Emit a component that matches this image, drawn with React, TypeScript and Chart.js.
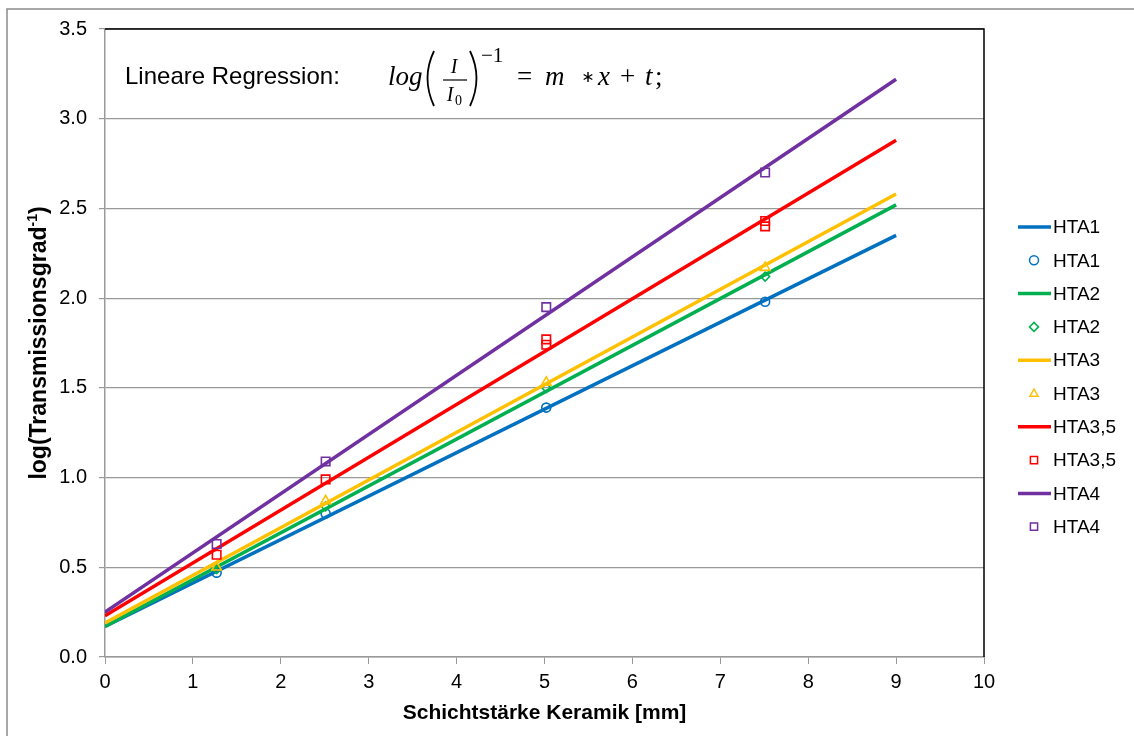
import React, { useEffect, useRef } from 'react';
import { Chart, registerables } from 'chart.js';

Chart.register(...registerables);

// ---- data ----
const seriesNames = ['HTA1', 'HTA2', 'HTA3', 'HTA3,5', 'HTA4'];
const seriesColors = ['#0070C0', '#00B050', '#FFC000', '#FF0000', '#7030A0'];
const markerStyles = ['circle', 'rectRot', 'triangle', 'rect', 'rect'];

// regression lines (x from 0 to 9)
const fitX = [0, 9];
const fitHTA1 = [0.17, 2.35];
const fitHTA2 = [0.17, 2.52];
const fitHTA3 = [0.19, 2.58];
const fitHTA35 = [0.23, 2.88];
const fitHTA4 = [0.25, 3.22];

// measured points
const measX = [1.27, 2.51, 5.02, 7.51];
const measHTA1 = [0.47, 0.8, 1.39, 1.98];
const measHTA2 = [0.49, 0.84, 1.5, 2.12];
const measHTA3 = [0.5, 0.87, 1.53, 2.17];
const measHTA35X = [1.27, 2.51, 5.02, 5.02, 7.51, 7.51];
const measHTA35 = [0.57, 0.99, 1.77, 1.74, 2.43, 2.4];
const measHTA4 = [0.63, 1.09, 1.95, 2.7];

const xMin = 0, xMax = 10, xStep = 1;
const yMin = 0, yMax = 3.5, yStep = 0.5;

const xTitle = 'Schichtstärke Keramik [mm]';
const yTitleMain = 'log(Transmissionsgrad';
const yTitleSup = '-1';
const yTitleEnd = ')';
const eqLabel = 'Lineare Regression:';

const fits = [fitHTA1, fitHTA2, fitHTA3, fitHTA35, fitHTA4];
const measXs = [measX, measX, measX, measHTA35X, measX];
const measYs = [measHTA1, measHTA2, measHTA3, measHTA35, measHTA4];

const SANS = '"Liberation Sans", Arial, sans-serif';
const SERIF = '"Liberation Serif", "Times New Roman", serif';

function drawMarker(ctx: CanvasRenderingContext2D, style: string, x: number, y: number, r: number) {
  ctx.beginPath();
  if (style === 'circle') {
    ctx.arc(x, y, r, 0, Math.PI * 2);
  } else if (style === 'rectRot') {
    ctx.moveTo(x, y - r); ctx.lineTo(x + r, y); ctx.lineTo(x, y + r); ctx.lineTo(x - r, y); ctx.closePath();
  } else if (style === 'triangle') {
    ctx.moveTo(x, y - r); ctx.lineTo(x + r * 0.9, y + r * 0.6); ctx.lineTo(x - r * 0.9, y + r * 0.6); ctx.closePath();
  } else {
    const s = r * 0.8;
    ctx.rect(x - s, y - s, 2 * s, 2 * s);
  }
  ctx.stroke();
}

const decorPlugin = {
  id: 'decor',
  beforeDatasetsDraw(chart: any) {
    const { ctx, chartArea } = chart;
    ctx.save();
    ctx.strokeStyle = '#000';
    ctx.lineWidth = 1.5;
    ctx.beginPath();
    ctx.moveTo(chartArea.left, chartArea.top);
    ctx.lineTo(chartArea.right, chartArea.top);
    ctx.lineTo(chartArea.right, chartArea.bottom);
    ctx.stroke();
    ctx.restore();
  },
  afterDraw(chart: any) {
    const { ctx, chartArea } = chart;
    ctx.save();
    // outer frame
    ctx.strokeStyle = '#8c8c8c';
    ctx.lineWidth = 1.5;
    ctx.beginPath();
    ctx.moveTo(7, 740);
    ctx.lineTo(7, 9);
    ctx.lineTo(1140, 9);
    ctx.stroke();

    // equation
    ctx.fillStyle = '#000';
    ctx.strokeStyle = '#000';
    ctx.textBaseline = 'alphabetic';
    ctx.textAlign = 'left';
    ctx.font = `24px ${SANS}`;
    ctx.fillText(eqLabel, 125, 84);
    ctx.font = `italic 27px ${SERIF}`;
    ctx.fillText('log', 388, 85);
    ctx.lineWidth = 1.8;
    ctx.beginPath(); ctx.moveTo(434, 51); ctx.quadraticCurveTo(421, 78, 434, 106); ctx.stroke();
    ctx.beginPath(); ctx.moveTo(470, 51); ctx.quadraticCurveTo(483, 78, 470, 106); ctx.stroke();
    ctx.font = `italic 20px ${SERIF}`;
    ctx.textAlign = 'center';
    ctx.fillText('I', 454, 73);
    ctx.lineWidth = 1.2;
    ctx.beginPath(); ctx.moveTo(443, 80); ctx.lineTo(467, 80); ctx.stroke();
    ctx.fillText('I', 450, 101);
    ctx.textAlign = 'left';
    ctx.font = `14px ${SERIF}`;
    ctx.fillText('0', 455, 105);
    ctx.font = `21px ${SERIF}`;
    ctx.fillText('\u22121', 481, 62);
    const tok: [string, boolean, number][] = [
      ['=', false, 517], ['m', true, 545], ['x', true, 598],
      ['+', false, 620], ['t', true, 645], [';', false, 655],
    ];
    tok.forEach(([s, it, x]) => {
      ctx.font = `${it ? 'italic ' : ''}27px ${SERIF}`;
      ctx.fillText(s, x, 85);
    });
    // math asterisk
    ctx.lineWidth = 1.4;
    ctx.beginPath();
    for (let k = 0; k < 3; k++) {
      const a = Math.PI / 2 + (k * Math.PI) / 3;
      ctx.moveTo(588 + 5 * Math.cos(a), 77 + 5 * Math.sin(a));
      ctx.lineTo(588 - 5 * Math.cos(a), 77 - 5 * Math.sin(a));
    }
    ctx.stroke();

    // x title
    ctx.font = `bold 21px ${SANS}`;
    ctx.textAlign = 'center';
    ctx.fillText(xTitle, (chartArea.left + chartArea.right) / 2, 719);

    // y title
    ctx.save();
    const cy = (chartArea.top + chartArea.bottom) / 2;
    ctx.translate(40, cy);
    ctx.rotate(-Math.PI / 2);
    ctx.textAlign = 'left';
    ctx.font = `bold 23px ${SANS}`;
    const w1 = ctx.measureText(yTitleMain).width;
    const w3 = ctx.measureText(yTitleEnd).width;
    ctx.font = `bold 14px ${SANS}`;
    const w2 = ctx.measureText(yTitleSup).width;
    const x0 = -(w1 + w2 + w3) / 2;
    ctx.textBaseline = 'middle';
    ctx.font = `bold 23px ${SANS}`;
    ctx.fillText(yTitleMain, x0, 0);
    ctx.font = `bold 14px ${SANS}`;
    ctx.fillText(yTitleSup, x0 + w1, -7);
    ctx.font = `bold 23px ${SANS}`;
    ctx.fillText(yTitleEnd, x0 + w1 + w2, 0);
    ctx.restore();

    // legend
    const ds = chart.data.datasets;
    ctx.textBaseline = 'middle';
    ctx.textAlign = 'left';
    ds.forEach((d: any, i: number) => {
      const y = 227 + i * 33.3;
      const si = Math.floor(i / 2);
      ctx.strokeStyle = seriesColors[si];
      if (i % 2 === 0) {
        ctx.lineWidth = 3.5;
        ctx.beginPath(); ctx.moveTo(1018, y); ctx.lineTo(1051, y); ctx.stroke();
      } else {
        ctx.lineWidth = 1.5;
        drawMarker(ctx, markerStyles[si], 1034, y, 4.5);
      }
      ctx.fillStyle = '#000';
      ctx.font = `19px ${SANS}`;
      ctx.fillText(d.label, 1053, y + 1);
    });
    ctx.restore();
  },
};

export default function App() {
  const ref = useRef<HTMLCanvasElement | null>(null);
  useEffect(() => {
    document.body.style.margin = '0';
    const datasets: any[] = [];
    seriesNames.forEach((name, i) => {
      datasets.push({
        label: name,
        data: fitX.map((x, k) => ({ x, y: fits[i][k] })),
        showLine: true,
        borderColor: seriesColors[i],
        backgroundColor: seriesColors[i],
        borderWidth: 3.5,
        pointRadius: 0,
        order: 20 - 2 * i,
      });
      datasets.push({
        label: name,
        data: measXs[i].map((x, k) => ({ x, y: measYs[i][k] })),
        showLine: false,
        borderColor: seriesColors[i],
        backgroundColor: 'rgba(0,0,0,0)',
        borderWidth: 1.6,
        pointStyle: markerStyles[i],
        pointRadius: markerStyles[i] === 'rect' ? 6 : markerStyles[i] === 'triangle' ? 5.5 : 4.5,
        order: 21 - 2 * i,
      });
    });
    const chart = new Chart(ref.current as HTMLCanvasElement, {
      type: 'scatter',
      data: { datasets },
      options: {
        animation: false,
        responsive: false,
        devicePixelRatio: 1,
        layout: { padding: { left: 0, top: 29, right: 150, bottom: 0 } },
        plugins: { legend: { display: false }, tooltip: { enabled: false } },
        scales: {
          x: {
            type: 'linear',
            min: xMin, max: xMax,
            afterFit: (s: any) => { s.height = 79; },
            ticks: { stepSize: xStep, color: '#000', font: { family: SANS, size: 20 }, padding: 6 },
            grid: { drawOnChartArea: false, drawTicks: true, tickLength: 7, color: '#999', tickColor: '#999' },
            border: { display: true, color: '#999', width: 1.5 },
          },
          y: {
            type: 'linear',
            min: yMin, max: yMax,
            afterFit: (s: any) => { s.width = 105; },
            ticks: {
              stepSize: yStep, color: '#000', font: { family: SANS, size: 20 }, padding: 12,
              callback: (v: any) => Number(v).toFixed(1),
            },
            grid: { color: '#999', lineWidth: 1.2, tickLength: 6, tickColor: '#999' },
            border: { display: true, color: '#999', width: 1.5 },
          },
        },
      },
      plugins: [decorPlugin],
    } as any);
    return () => chart.destroy();
  }, []);
  return (
    <div style={{ width: 1134, height: 736, position: 'relative' }}>
      <canvas ref={ref} width={1134} height={736} style={{ display: 'block', width: 1134, height: 736 }} />
    </div>
  );
}
